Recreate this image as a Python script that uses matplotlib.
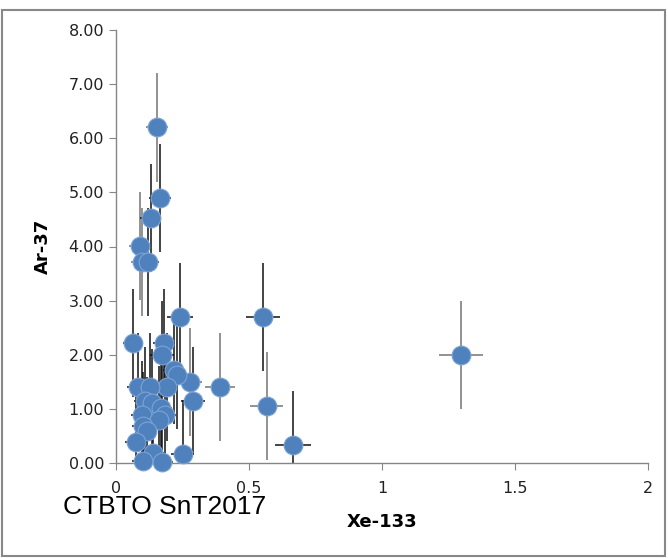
import matplotlib.pyplot as plt
from matplotlib.patches import Rectangle
from matplotlib.ticker import FormatStrFormatter

# series with dark error bars
xe_a = [0.165, 0.13, 0.12, 0.24, 0.553, 0.064, 0.18, 0.173, 0.218, 0.229,
        0.19, 0.083, 0.128, 0.29, 0.109, 0.135, 0.17, 0.097, 0.184, 0.163,
        0.10, 0.115, 0.075, 0.14, 0.10, 0.173, 0.25, 0.666]
ar_a = [4.90, 4.53, 3.71, 2.70, 2.70, 2.22, 2.22, 2.00, 1.72, 1.63,
        1.40, 1.40, 1.40, 1.15, 1.15, 1.10, 1.02, 0.88, 0.88, 0.79,
        0.68, 0.59, 0.39, 0.19, 0.04, 0.01, 0.17, 0.33]
xe_a_err = [0.04, 0.04, 0.04, 0.05, 0.064, 0.038, 0.04, 0.045, 0.04, 0.04,
            0.04, 0.04, 0.04, 0.045, 0.04, 0.04, 0.04, 0.04, 0.04, 0.04,
            0.04, 0.04, 0.04, 0.04, 0.04, 0.04, 0.045, 0.068]
ar_a_err = [1.0] * len(ar_a)

# series with grey error bars
xe_b = [0.154, 0.09, 0.098, 1.297, 0.567, 0.39, 0.278]
ar_b = [6.20, 4.01, 3.71, 2.00, 1.06, 1.40, 1.49]
xe_b_err = [0.04, 0.04, 0.04, 0.083, 0.062, 0.056, 0.045]
ar_b_err = [1.0] * len(ar_b)

fig = plt.figure(figsize=(6.68, 5.58), dpi=100)
ax = fig.add_axes([116 / 668, 95 / 558, 532 / 668, 433 / 558])

# error bars first, markers on top of everything
ax.errorbar(xe_b, ar_b, xerr=xe_b_err, yerr=ar_b_err, fmt='none',
            ecolor='#7f7f7f', elinewidth=1.2, capsize=0, zorder=2)
ax.errorbar(xe_a, ar_a, xerr=xe_a_err, yerr=ar_a_err, fmt='none',
            ecolor='#111111', elinewidth=1.1, capsize=0, zorder=2)
for xs, ys in [(xe_b, ar_b), (xe_a, ar_a)]:
    ax.plot(xs, ys, 'o', ms=13.5, mfc='#4F81BD', mec='#7DA3D6', mew=0.8,
            zorder=4, clip_on=False)

ax.set_xlim(0, 2)
ax.set_ylim(0, 8)
ax.set_xticks([0, 0.5, 1, 1.5, 2])
ax.set_xticklabels(['0', '0.5', '1', '1.5', '2'])
ax.set_yticks(range(0, 9))
ax.yaxis.set_major_formatter(FormatStrFormatter('%.2f'))

for side in ['top', 'right']:
    ax.spines[side].set_visible(False)
for side in ['left', 'bottom']:
    ax.spines[side].set_color('#868686')
    ax.spines[side].set_linewidth(1.0)
ax.tick_params(direction='out', length=5, color='#868686', labelsize=11.5,
               labelcolor='#222222')
ax.tick_params(axis='x', pad=8)

ax.set_xlabel('Xe-133', fontsize=13, fontweight='bold', labelpad=12)
ax.set_ylabel('Ar-37', fontsize=13, fontweight='bold', labelpad=12)

fig.text(63 / 668, 44 / 558, 'CTBTO SnT2017', fontsize=19,
         family='Liberation Sans', va='baseline', ha='left')

fig.patches.append(Rectangle((2 / 668, 2 / 558), 663 / 668, 546 / 558,
                             transform=fig.transFigure, fill=False,
                             edgecolor='#888888', linewidth=1.5))

fig.savefig('out.png', dpi=100)
